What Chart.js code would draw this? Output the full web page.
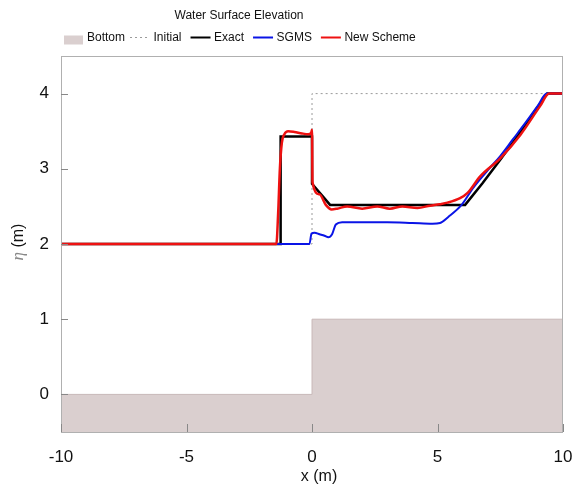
<!DOCTYPE html>
<html>
<head>
<meta charset="utf-8">
<script src="https://cdn.jsdelivr.net/npm/chart.js@4"></script>
<style>
  html, body { margin: 0; padding: 0; background: #fff; }
  #wrap { width: 576px; height: 493px; }
</style>
</head>
<body>
<div id="wrap"><canvas id="chartCanvas" width="576" height="493"></canvas></div>
<script>
// bed profile (step at x = 0)
const bottomX = [-10, 0, 0.001, 10];
const bottomY = [0, 0, 1, 1];

// initial free surface
const initialX = [-10, 0, 0.001, 10];
const initialY = [2, 2, 4, 4];

// exact solution
const exactX = [-10, -1.27, -1.25, 0, 0.001, 0.72, 6.1, 6.8, 7.5, 8.2, 8.9, 9.37, 10];
const exactY = [2, 2, 3.43, 3.43, 2.8, 2.52, 2.52, 2.81, 3.12, 3.44, 3.78, 4, 4];

// SGMS result
const sgmsX = [-10, -0.1, -0.02, 0.1, 0.3, 0.5, 0.65, 0.8, 0.95, 1.2, 2, 3, 4, 4.8, 5.1, 5.43, 5.96, 6.43, 7.0, 7.5, 8.0, 8.5, 9.0, 9.35, 10];
const sgmsY = [2, 2, 2.14, 2.15, 2.13, 2.11, 2.09, 2.13, 2.26, 2.29, 2.29, 2.29, 2.28, 2.27, 2.28, 2.36, 2.52, 2.75, 2.98, 3.17, 3.39, 3.61, 3.84, 4, 4];

// new scheme result
const newX = [-10, -1.42, -1.35, -1.28, -1.2, -1.1, -0.95, -0.7, -0.4, -0.15, -0.03, 0, 0.02, 0.3, 0.55, 0.78, 1.0, 1.4, 2.0, 2.6, 3.1, 3.6, 4.2, 4.7, 5.1, 5.4, 5.9, 6.2, 6.7, 7.5, 8.3, 9.08, 9.45, 10];
const newY = [2, 2, 2.4, 3.0, 3.35, 3.46, 3.5, 3.49, 3.47, 3.46, 3.48, 3.52, 2.82, 2.66, 2.52, 2.46, 2.47, 2.5, 2.47, 2.5, 2.47, 2.5, 2.48, 2.51, 2.53, 2.55, 2.61, 2.68, 2.9, 3.14, 3.45, 3.83, 4, 4];

const xTicks = [-10, -5, 0, 5, 10];
const yTicks = [0, 1, 2, 3, 4];

const toPoints = (xs, ys) => xs.map((x, i) => ({ x: x, y: ys[i] }));

const FONT = '"Liberation Sans", Arial, sans-serif';

// box, inward ticks, legend and axis titles
const decorPlugin = {
  id: "decor",
  afterDraw(chart) {
    const ctx = chart.ctx;
    const a = chart.chartArea;
    const xs = chart.scales.x, ys = chart.scales.y;
    ctx.save();
    ctx.strokeStyle = "#b0b0b0";
    ctx.lineWidth = 1;
    ctx.strokeRect(a.left + 0.5, a.top + 0.5, a.right - a.left - 1, a.bottom - a.top);
    ctx.strokeStyle = "#888";
    ctx.beginPath();
    xTicks.forEach(v => {
      const px = Math.round(xs.getPixelForValue(v)) + 0.5;
      ctx.moveTo(px, a.bottom);
      ctx.lineTo(px, a.bottom - 8);
    });
    yTicks.forEach(v => {
      const py = Math.round(ys.getPixelForValue(v)) + 0.5;
      ctx.moveTo(a.left, py);
      ctx.lineTo(a.left + 7, py);
    });
    ctx.stroke();

    // x axis title
    ctx.fillStyle = "#111";
    ctx.font = "16px " + FONT;
    ctx.textAlign = "center";
    ctx.textBaseline = "middle";
    ctx.fillText("x (m)", (a.left + a.right) / 2 + 7, 477);

    // y axis title
    ctx.save();
    ctx.translate(19, 242);
    ctx.rotate(-Math.PI / 2);
    ctx.textAlign = "left";
    const etaFont = 'italic 17px "Liberation Serif", "DejaVu Serif", serif';
    const unitFont = "16px " + FONT;
    ctx.font = etaFont;
    const w1 = ctx.measureText("\u03b7").width;
    ctx.font = unitFont;
    const w2 = ctx.measureText(" (m)").width;
    let sx = -(w1 + w2) / 2;
    ctx.font = etaFont;
    ctx.fillStyle = "#888";
    ctx.fillText("\u03b7", sx, 0);
    ctx.font = unitFont;
    ctx.fillStyle = "#111";
    ctx.fillText(" (m)", sx + w1, 0);
    ctx.restore();

    // title
    ctx.fillStyle = "#111";
    ctx.font = "12px " + FONT;
    ctx.textAlign = "center";
    ctx.fillText("Water Surface Elevation", 239, 16);

    // legend
    ctx.font = "12px " + FONT;
    ctx.textAlign = "left";
    const ly = 37.5;
    const gaps = [5, 9, 9, 9, 9];
    let x = 64;
    [0, 1, 2, 3, 4].forEach(i => {
      const ds = chart.data.datasets[i];
      if (i === 0) {
        ctx.fillStyle = ds.backgroundColor;
        ctx.fillRect(x, ly - 2, 19, 9);
      } else {
        ctx.beginPath();
        ctx.strokeStyle = ds.borderColor;
        ctx.lineWidth = i === 1 ? 1 : 2;
        ctx.setLineDash(ds.borderDash || []);
        ctx.moveTo(x, ly);
        ctx.lineTo(x + 20, ly);
        ctx.stroke();
        ctx.setLineDash([]);
      }
      x += i === 0 ? 23 : 23.5;
      ctx.fillStyle = "#111";
      ctx.fillText(ds.label, x, ly);
      x += ctx.measureText(ds.label).width + gaps[i];
    });
    ctx.restore();
  }
};

const ctx = document.getElementById("chartCanvas").getContext("2d");
const chart = new Chart(ctx, {
  type: "line",
  data: {
    datasets: [
      {
        label: "Bottom",
        data: toPoints(bottomX, bottomY),
        borderColor: "#c9b9b9",
        backgroundColor: "#dacfcf",
        borderWidth: 1,
        fill: "start",
        pointRadius: 0,
        order: 4
      },
      {
        label: "Initial",
        data: toPoints(initialX, initialY),
        borderColor: "#9a9a9a",
        borderWidth: 1,
        borderDash: [2, 3],
        fill: false,
        pointRadius: 0,
        order: 3
      },
      {
        label: "Exact",
        data: toPoints(exactX, exactY),
        borderColor: "#000000",
        borderWidth: 2.5,
        fill: false,
        pointRadius: 0,
        order: 2
      },
      {
        label: "SGMS",
        data: toPoints(sgmsX, sgmsY),
        borderColor: "#0a14e6",
        borderWidth: 2,
        fill: false,
        pointRadius: 0,
        cubicInterpolationMode: "monotone",
        order: 1
      },
      {
        label: "New Scheme",
        data: toPoints(newX, newY),
        borderColor: "#ee1111",
        borderWidth: 2.5,
        fill: false,
        pointRadius: 0,
        cubicInterpolationMode: "monotone",
        order: 0
      }
    ]
  },
  options: {
    responsive: false,
    animation: false,
    layout: { padding: { top: 56, right: 13, left: 0, bottom: 0 } },
    plugins: {
      legend: { display: false },
      title: { display: false },
      tooltip: { enabled: false }
    },
    scales: {
      x: {
        type: "linear",
        min: -10,
        max: 10,
        afterBuildTicks: s => { s.ticks = xTicks.map(v => ({ value: v })); },
        afterFit: s => { s.height = 61; s.paddingLeft = 0; s.paddingRight = 0; },
        grid: { display: false, drawTicks: false },
        border: { display: false },
        ticks: { color: "#111", font: { size: 17, family: FONT }, padding: 15, maxRotation: 0 }
      },
      y: {
        type: "linear",
        min: -0.5,
        max: 4.5,
        afterBuildTicks: s => { s.ticks = yTicks.map(v => ({ value: v })); },
        afterFit: s => { s.width = 61; s.paddingTop = 0; s.paddingBottom = 0; },
        grid: { display: false, drawTicks: false },
        border: { display: false },
        ticks: { color: "#111", font: { size: 17, family: FONT }, padding: 12 }
      }
    }
  },
  plugins: [decorPlugin]
});
</script>
</body>
</html>
